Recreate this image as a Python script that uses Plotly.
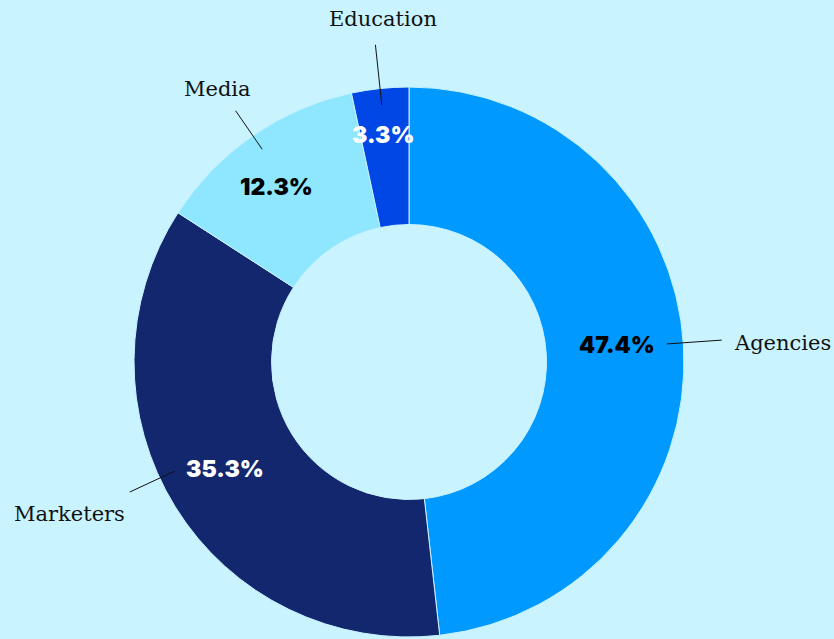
import math
import plotly.graph_objects as go

categories = ["Agencies", "Marketers", "Media", "Education"]
values = [47.4, 35.3, 12.3, 3.3]
colors = ["#0099ff", "#13276f", "#8fe6ff", "#0047e5"]
pct_colors = ["#000000", "#ffffff", "#000000", "#ffffff"]

W, H = 834, 639
BG = "#c9f3ff"
CX, CY, R = 409, 362, 275

# layout tweaks for the labels (degrees / radius fractions / pixels)
leader_angle_nudge = [-0.8, 6.8, 0.0, 0.0]
leader_end = [1.14, 1.12, 1.11, 1.16]
label_offset_px = [(10, -3), (-3, -22), (-18, 22), (8, 26)]
pct_radius = [0.76, 0.774, 0.80, 0.83]
pct_angle_nudge = [-1.5, 1.6, -2.5, -0.5]

dom_x = [(CX - R) / W, (CX + R) / W]
dom_y = [(H - CY - R) / H, (H - CY + R) / H]

fig = go.Figure()
fig.add_trace(go.Pie(
    labels=categories, values=values, sort=False, direction="clockwise", rotation=0,
    hole=0.5, marker=dict(colors=colors, line=dict(color=BG, width=1)),
    textinfo="none", hoverinfo="label+percent", showlegend=False,
    domain=dict(x=dom_x, y=dom_y),
))

def to_paper(r, ang):
    return (CX + r * math.sin(ang)) / W, (H - CY + r * math.cos(ang)) / H

total = sum(values)
annotations = []
shapes = []
cum = 0.0
for i, (cat, v) in enumerate(zip(categories, values)):
    mid = (cum + v / 2) / total * 2 * math.pi
    cum += v
    a_pct = mid + math.radians(pct_angle_nudge[i])
    px, py = to_paper(pct_radius[i] * R, a_pct)
    annotations.append(dict(
        x=px, y=py, xref="paper", yref="paper", showarrow=False,
        text=f"{v:.1f}%", font=dict(family="Inter", size=23, color=pct_colors[i], weight=900),
        xanchor="center", yanchor="middle",
    ))
    a_lab = mid + math.radians(leader_angle_nudge[i])
    x0, y0 = to_paper(0.94 * R, a_lab)
    x1, y1 = to_paper(leader_end[i] * R, a_lab)
    shapes.append(dict(type="line", xref="paper", yref="paper", x0=x0, y0=y0, x1=x1, y1=y1,
                       line=dict(color="#111111", width=1)))
    dx = math.sin(a_lab)
    xa = "left" if dx > 0.7 else ("right" if dx < -0.7 else "center")
    ox, oy = label_offset_px[i]
    annotations.append(dict(
        x=x1, y=y1, xref="paper", yref="paper", showarrow=False, text=cat,
        font=dict(family="DejaVu Serif", size=21, color="#111111"),
        xanchor=xa, yanchor="middle", xshift=ox, yshift=oy,
    ))

fig.update_layout(
    width=W, height=H, paper_bgcolor=BG, plot_bgcolor=BG,
    margin=dict(l=0, r=0, t=0, b=0),
    annotations=annotations, shapes=shapes,
)
fig.write_html("out.html", config={"displayModeBar": False},
               post_script="document.body.style.margin='0';")
